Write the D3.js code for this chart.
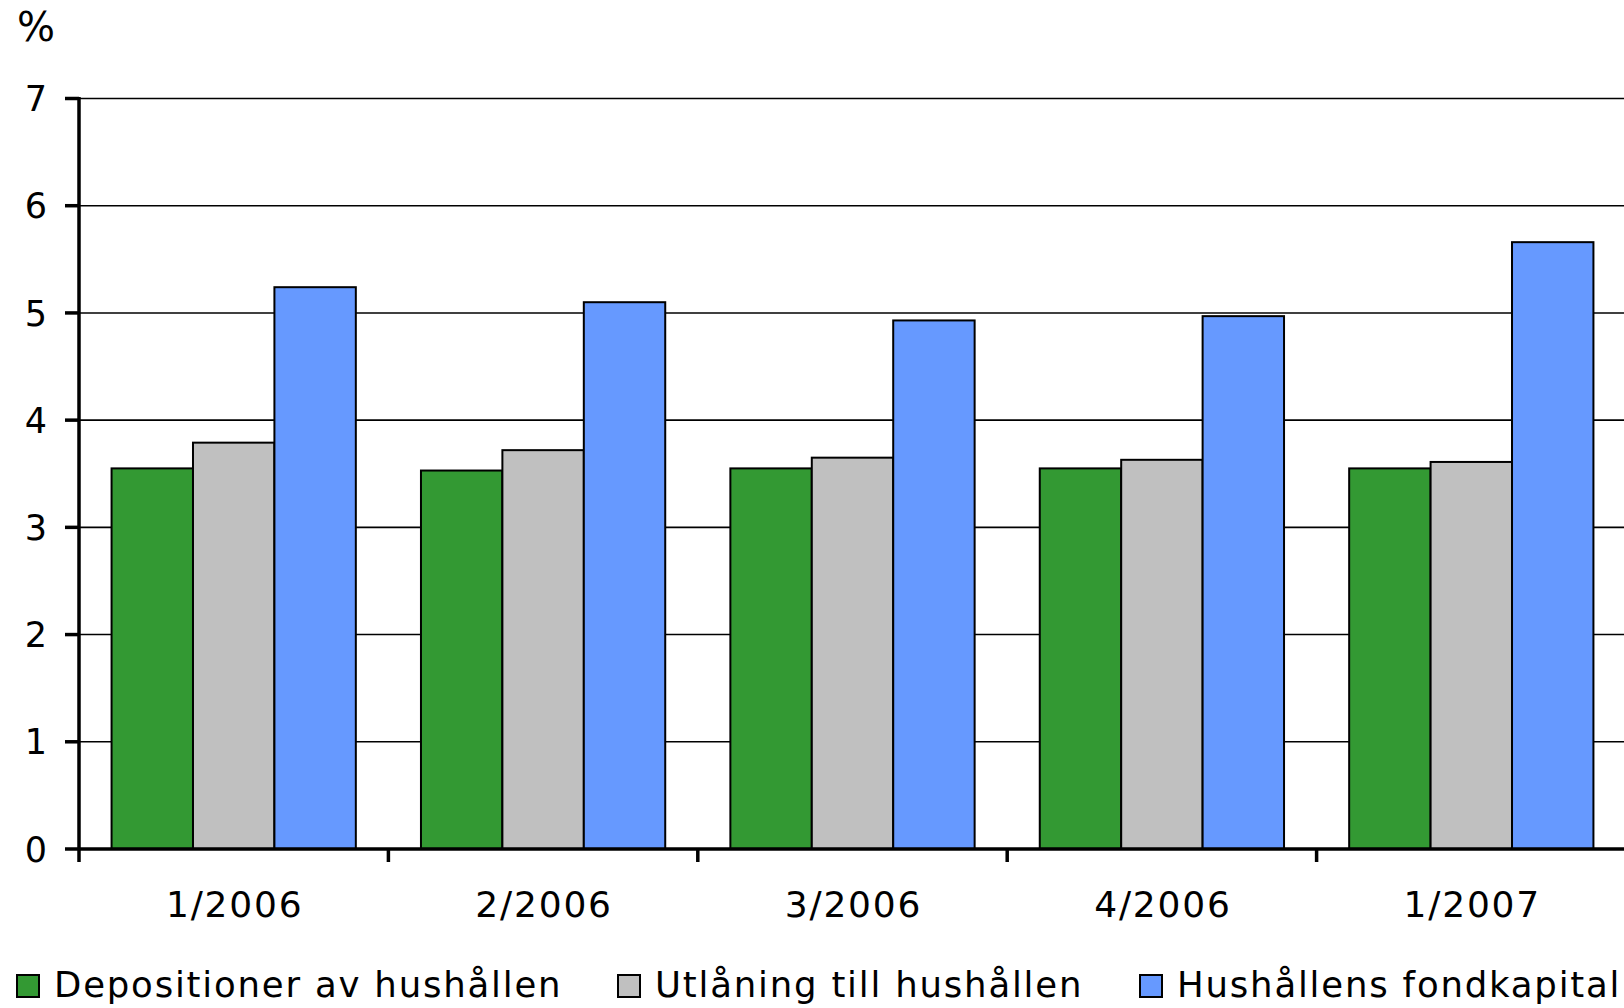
<!doctype html>
<meta charset="utf-8">
<style>
 body { margin: 0; background: #fff; }
 svg text { font-family: "DejaVu Sans", Verdana, sans-serif; fill: #000; }
 .grid line { stroke: #000; stroke-width: 1.6px; }
 .bars rect { stroke: #000; stroke-width: 2px; }
</style>
<svg width="1624" height="1008"></svg>
<script src="https://d3js.org/d3.v7.min.js"></script>
<script>
 // Data
 var categories = ["1/2006", "2/2006", "3/2006", "4/2006", "1/2007"];
 var seriesNames = ["Depositioner av hushållen", "Utlåning till hushållen", "Hushållens fondkapital"];
 var depositioner = [3.55, 3.53, 3.55, 3.55, 3.55];
 var utlaning = [3.79, 3.72, 3.65, 3.63, 3.61];
 var fondkapital = [5.24, 5.10, 4.93, 4.97, 5.66];
 var yTicks = [0, 1, 2, 3, 4, 5, 6, 7];
 var colors = ["#339933", "#c0c0c0", "#6699ff"];

 var series = [depositioner, utlaning, fondkapital];

 var svg = d3.select("svg");
 var x0 = 79, x1 = 1626, yTop = 98.5, yBottom = 849;

 var x = d3.scaleBand().domain(categories).range([x0, x1]).padding(0);
 var xs = d3.scaleBand().domain(d3.range(3)).range([0, x.bandwidth()])
            .paddingInner(0).paddingOuter(0.4);
 var y = d3.scaleLinear().domain([0, 7]).range([yBottom, yTop]);
 var color = d3.scaleOrdinal().domain(d3.range(3)).range(colors);

 // grid
 svg.append("g").attr("class", "grid")
   .selectAll("line").data(yTicks.slice(1)).join("line")
   .attr("x1", x0).attr("x2", 1624)
   .attr("y1", function(d) { return y(d); })
   .attr("y2", function(d) { return y(d); });

 // bars
 var rows = categories.map(function(c, i) {
   return series.map(function(s, k) { return { cat: c, k: k, value: s[i] }; });
 });
 svg.append("g").attr("class", "bars")
   .selectAll("g").data(rows).join("g")
   .attr("transform", function(d, i) { return "translate(" + x(categories[i]) + ",0)"; })
   .selectAll("rect").data(function(d) { return d; }).join("rect")
   .attr("x", function(d) { return xs(d.k); })
   .attr("width", xs.bandwidth())
   .attr("y", function(d) { return y(d.value); })
   .attr("height", function(d) { return yBottom - y(d.value); })
   .attr("fill", function(d) { return color(d.k); });

 // y axis
 var yAxis = svg.append("g");
 yAxis.append("line").attr("x1", x0).attr("x2", x0).attr("y1", yTop - 1.5).attr("y2", yBottom + 13)
   .attr("stroke", "#000").attr("stroke-width", 3.5);
 yAxis.selectAll(".tick").data(yTicks).join("line")
   .attr("x1", 65).attr("x2", x0)
   .attr("y1", function(d) { return y(d); }).attr("y2", function(d) { return y(d); })
   .attr("stroke", "#000").attr("stroke-width", 3.5);
 yAxis.selectAll("text").data(yTicks).join("text")
   .attr("x", 47).attr("y", function(d) { return y(d); })
   .attr("dy", "0.36em").attr("text-anchor", "end")
   .style("font-size", "35px")
   .text(function(d) { return d; });

 // x axis
 var xAxis = svg.append("g");
 xAxis.append("line").attr("x1", x0).attr("x2", 1624).attr("y1", yBottom).attr("y2", yBottom)
   .attr("stroke", "#000").attr("stroke-width", 3.5);
 xAxis.selectAll(".tk").data(categories.slice(1)).join("line")
   .attr("x1", function(d) { return x(d); }).attr("x2", function(d) { return x(d); })
   .attr("y1", yBottom).attr("y2", yBottom + 13)
   .attr("stroke", "#000").attr("stroke-width", 3.5);
 xAxis.selectAll("text").data(categories).join("text")
   .attr("x", function(d) { return x(d) + x.bandwidth() / 2 + 1; })
   .attr("y", 917).attr("text-anchor", "middle")
   .style("font-size", "36px").style("letter-spacing", "1.8px")
   .text(function(d) { return d; });

 // unit label
 svg.append("text").attr("x", 17).attr("y", 41).style("font-size", "40px").text("%");

 // legend
 var legendX = [17, 618, 1140];
 var lg = svg.append("g").selectAll("g").data(seriesNames).join("g")
   .attr("transform", function(d, i) { return "translate(" + legendX[i] + ",0)"; });
 lg.append("rect").attr("x", 0).attr("y", 975).attr("width", 22).attr("height", 22)
   .attr("fill", function(d, i) { return colors[i]; })
   .attr("stroke", "#000").attr("stroke-width", 2);
 lg.append("text").attr("x", 37).attr("y", 997)
   .style("font-size", "35.5px").style("letter-spacing", "1.8px")
   .text(function(d) { return d; });
</script>
